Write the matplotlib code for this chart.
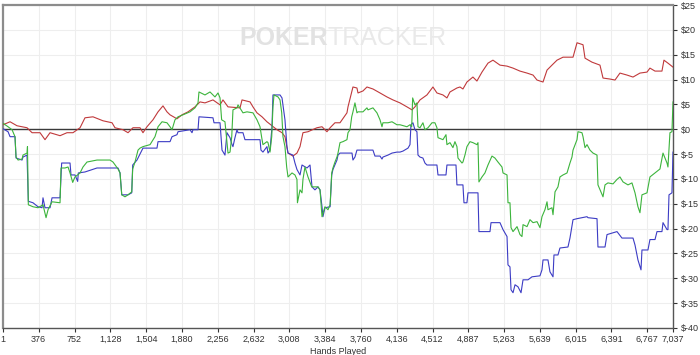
import matplotlib
matplotlib.use("Agg")
import matplotlib.pyplot as plt

# ---------------- data ----------------
red_hands = [1, 75, 148, 253, 306, 390, 442, 495, 600, 673, 736, 810, 862, 946, 1051, 1146, 1177, 1261, 1314,
             1366, 1440, 1471, 1513, 1576, 1629, 1681, 1723, 1755, 1828, 1881, 1944, 2017, 2070, 2122, 2206,
             2280, 2311, 2364, 2490, 2511, 2595, 2626, 2668, 2721, 2773, 2826, 2878, 2931, 2962, 2994, 3046,
             3088, 3120, 3151, 3204, 3298, 3351, 3403, 3436, 3487, 3540, 3613, 3624, 3676, 3718, 3729, 3781,
             3823, 3886, 3960, 4033, 4096, 4170, 4243, 4296, 4327, 4380, 4453, 4516, 4558, 4621, 4663, 4695,
             4768, 4800, 4831, 4873, 4936, 4978, 5031, 5094, 5146, 5220, 5294, 5357, 5430, 5504, 5567, 5609,
             5672, 5714, 5766, 5819, 5882, 5987, 6029, 6092, 6113, 6186, 6270, 6302, 6375, 6428, 6480, 6554,
             6617, 6690, 6764, 6795, 6848, 6921, 6942, 6984, 7037]
red_vals = [0.9, 1.5, 0.7, 0.3, -0.7, -0.7, -2.1, -0.7, -1.3, -0.7, -0.7, 0.3, 2.3, 2.5, 1.7, 1.3, 0.3, -0.1, -0.7,
            0.3, 0.3, -0.7, 0.5, 1.9, 3.5, 4.7, 3.5, 2.9, 2.1, 2.9, 3.5, 4.5, 5.5, 5.3, 5.9,
            4.9, 5.9, 4.5, 4.3, 5.9, 5.5, 4.5, 3.3, 2.5, 1.5, 0.7, -0.1, -0.7, -1.5, -4.8, -5.4,
            -4.8, -3.5, -0.7, -0.5, 0.3, 0.5, -0.5, 0.3, 1.3, 1.3, 3.3, 4.5, 8.5, 8.3, 7.3, 7.7,
            8.5, 8.1, 7.3, 6.5, 5.9, 5.3, 4.5, 3.9, 4.5, 5.9, 6.9, 8.5, 7.3, 6.9, 6.3, 7.5,
            8.3, 8.5, 8.1, 9.5, 10.5, 9.7, 11.5, 13.3, 13.9, 12.9, 12.7, 12.3, 11.7, 11.3, 10.9, 9.9,
            9.5, 11.9, 12.9, 13.9, 14.5, 14.5, 17.4, 17.0, 14.3, 13.5, 12.9, 10.3, 10.1, 9.9, 11.3, 10.9,
            10.5, 11.3, 11.5, 12.3, 11.7, 11.7, 13.9, 13.3, 12.5]

green_hands = [1, 54, 96, 127, 138, 159, 201, 211, 253, 258, 267, 316, 369, 421, 453, 474, 516, 600, 610, 652,
               684, 705, 733, 757, 810, 841, 883, 988, 1125, 1156, 1209, 1230, 1248, 1282, 1314, 1353, 1363,
               1387, 1419, 1440, 1471, 1545, 1597, 1629, 1671, 1723, 1755, 1776, 1807, 1839, 1891, 1965, 2017,
               2049, 2059, 2122, 2175, 2227, 2259, 2280, 2297, 2332, 2364, 2385, 2403, 2416, 2458, 2469, 2521,
               2563, 2626, 2668, 2700, 2718, 2731, 2773, 2784, 2805, 2823, 2836, 2847, 2889, 2910, 2928, 2941,
               2962, 2980, 2994, 3036, 3067, 3088, 3093, 3109, 3120, 3141, 3151, 3172, 3204, 3243, 3277, 3309,
               3330, 3340, 3351, 3382, 3414, 3436, 3453, 3466, 3487, 3508, 3519, 3540, 3571, 3613, 3624, 3645,
               3663, 3676, 3697, 3718, 3729, 3781, 3823, 3834, 3886, 3928, 3960, 3981, 3991, 4044, 4086, 4138,
               4170, 4243, 4275, 4293, 4303, 4327, 4348, 4359, 4380, 4411, 4432, 4464, 4506, 4537, 4558, 4569,
               4621, 4653, 4663, 4695, 4726, 4747, 4768, 4779, 4821, 4831, 4852, 4873, 4905, 4936, 4978, 4989,
               4999, 5031, 5062, 5094, 5136, 5167, 5199, 5241, 5252, 5294, 5304, 5325, 5336, 5357, 5399, 5430,
               5451, 5462, 5504, 5535, 5567, 5609, 5640, 5661, 5692, 5714, 5724, 5766, 5777, 5798, 5829, 5850,
               5882, 5924, 5955, 5976, 5987, 6029, 6039, 6081, 6092, 6113, 6134, 6165, 6197, 6239, 6249, 6302,
               6323, 6354, 6407, 6449, 6480, 6512, 6564, 6606, 6638, 6669, 6690, 6711, 6764, 6795, 6848, 6900,
               6932, 6974, 6984, 7005, 7026, 7037]
green_vals = [1.2, 0.5, -0.1, -1.5, -5.6, -6.2, -6.0, -5.2, -4.8, -3.5, -15.2, -15.6, -15.8, -15.2, -17.8, -16.2, -14.6, -14.8, -7.8, -7.8,
              -7.6, -8.8, -10.7, -9.6, -8.8, -7.6, -6.6, -6.2, -6.2, -6.6, -8.0, -8.8, -13.2, -13.6, -13.2, -12.6, -8.0,
              -6.6, -4.2, -3.8, -3.5, -3.1, -1.5, 0.5, 1.5, 1.3, 0.5, -0.1, 1.9, 2.5, 2.9, 3.5, 4.3,
              5.3, 7.5, 6.9, 7.5, 6.5, 7.3, 6.3, 1.9, 1.5, -4.8, -4.6, -1.5, 3.9, 4.3, 4.9, 3.3,
              3.5, 3.3, 1.9, 0.5, -1.7, -3.1, -2.5, -2.7, -4.6, -1.5, 4.5, 6.9, 6.5, 5.9, 3.3, -1.5,
              -3.5, -7.6, -9.6, -8.8, -9.2, -10.1, -14.8, -13.2, -12.2, -12.8, -10.1, -7.6, -9.6, -11.6, -11.6, -11.6,
              -12.2, -14.8, -17.6, -15.6, -16.2, -15.2, -8.8, -7.8, -6.6, -5.6, -4.8, -2.7, -2.5, -2.1, -0.7, -0.1,
              2.5, 3.5, 5.3, 3.3, 3.5, 3.5, 4.3, 3.9, 4.3, 3.3, 1.9, 0.5, 1.3, 1.3, 1.5, 0.9,
              0.9, 0.5, 0.9, 0.5, 6.3, 4.9, 5.3, 0.5, 0.3, 1.3, -0.1, 0.3, 1.3, 1.3, 0.3, -1.7,
              -2.1, -1.1, -3.1, -2.7, -3.7, -2.5, -3.5, -5.8, -6.8, -6.6, -5.2, -3.5, -2.5, -2.7, -3.1, -2.7,
              -10.6, -9.6, -8.8, -7.2, -5.4, -5.8, -6.6, -7.6, -8.8, -9.2, -14.8, -14.8, -19.8, -20.6, -19.6, -21.2,
              -21.6, -19.2, -19.6, -18.2, -18.8, -18.6, -19.8, -17.6, -16.2, -14.6, -16.2, -15.8, -17.2, -12.6, -11.6, -9.6,
              -9.2, -8.8, -6.8, -5.6, -4.2, -2.1, -0.5, -0.7, -1.5, -3.7, -3.1, -4.2, -4.8, -5.2, -11.2, -13.6,
              -11.2, -10.8, -11.0, -10.1, -9.6, -10.6, -11.2, -10.8, -12.8, -15.6, -16.8, -13.2, -12.8, -9.6, -8.8, -8.0,
              -4.8, -6.8, -7.6, -0.7, -0.5, 5.5]

blue_hands = [1, 54, 75, 127, 138, 201, 211, 253, 267, 316, 369, 411, 421, 442, 495, 516, 600, 617, 705, 715,
              757, 785, 792, 862, 988, 1209, 1230, 1248, 1314, 1353, 1363, 1408, 1461, 1471, 1618, 1629, 1755,
              1776, 1828, 1839, 1965, 1986, 1996, 2049, 2059, 2206, 2217, 2280, 2301, 2332, 2353, 2385, 2406,
              2416, 2437, 2458, 2469, 2521, 2542, 2700, 2710, 2731, 2773, 2784, 2805, 2826, 2836, 2910, 2931,
              2962, 2983, 2994, 3046, 3067, 3088, 3120, 3141, 3193, 3225, 3246, 3277, 3309, 3330, 3351, 3361,
              3382, 3436, 3453, 3466, 3508, 3519, 3540, 3666, 3676, 3697, 3718, 3886, 3907, 3960, 3981, 3991,
              4044, 4086, 4138, 4170, 4201, 4254, 4275, 4285, 4306, 4327, 4348, 4359, 4380, 4411, 4432, 4453,
              4558, 4569, 4653, 4663, 4758, 4768, 4831, 4842, 4873, 4884, 4989, 4999, 5115, 5126, 5220, 5252,
              5294, 5304, 5325, 5336, 5357, 5378, 5409, 5441, 5462, 5514, 5556, 5640, 5661, 5672, 5724, 5745,
              5777, 5787, 5829, 5850, 5934, 5955, 5987, 6029, 6134, 6144, 6239, 6249, 6323, 6344, 6449, 6501,
              6617, 6638, 6669, 6701, 6711, 6774, 6795, 6848, 6869, 6921, 6932, 6974, 6984, 6995, 7026, 7037]
blue_vals = [0.1, -0.5, -1.5, -1.5, -5.8, -6.2, -5.6, -5.2, -14.5, -14.8, -15.6, -15.8, -13.8, -15.8, -15.8, -13.8, -13.8, -6.8, -6.8, -9.2,
             -9.2, -10.5, -8.8, -8.6, -7.8, -7.8, -8.8, -13.2, -13.2, -12.8, -7.2, -6.2, -4.2, -3.8, -3.8, -2.5, -2.5,
             -1.5, -1.1, -0.5, -0.1, -0.7, -0.1, -0.1, 2.5, 2.3, 1.3, 1.3, -4.2, -5.2, -0.7, -1.7, -3.1,
             -3.5, -1.7, -0.1, -0.7, -0.7, -2.1, -2.1, -4.2, -4.6, -3.5, -4.8, -4.2, 0.5, 6.9, 6.9, 6.3,
             1.9, -3.5, -4.8, -5.2, -6.8, -8.1, -9.2, -7.2, -7.8, -7.2, -11.6, -12.2, -11.6, -12.2, -15.6, -17.6,
             -15.8, -15.6, -9.2, -8.1, -6.2, -5.2, -4.8, -4.8, -6.2, -5.6, -4.2, -4.2, -5.4, -5.4, -6.0, -5.6,
             -5.2, -4.8, -4.6, -4.6, -4.4, -3.8, -3.1, 0.9, 1.3, -0.1, -0.5, -5.2, -5.6, -5.8, -6.8, -7.2,
             -7.2, -9.2, -9.2, -7.2, -7.2, -11.2, -11.2, -14.8, -14.8, -12.8, -12.8, -20.6, -20.6, -18.8, -18.8, -20.2,
             -21.6, -27.3, -27.7, -32.3, -32.9, -31.3, -31.7, -32.9, -30.3, -30.3, -29.7, -29.5, -28.3, -26.3, -26.3, -28.7,
             -29.7, -25.3, -25.3, -23.9, -23.7, -21.9, -18.2, -18.0, -17.6, -17.8, -18.0, -23.7, -23.7, -21.2, -20.6, -21.9,
             -21.9, -23.3, -26.3, -28.3, -24.3, -24.3, -22.2, -22.2, -20.6, -20.6, -18.8, -20.2, -20.2, -13.2, -12.8, -4.6]

x_ticks = [1, 376, 752, 1128, 1504, 1880, 2256, 2632, 3008, 3384, 3760, 4136, 4512, 4887,
           5263, 5639, 6015, 6391, 6767, 7037]
y_ticks = [25, 20, 15, 10, 5, 0, -5, -10, -15, -20, -25, -30, -35, -40]
x_label = "Hands Played"

# ---------------- figure ----------------
plt.rcParams['font.family'] = ['Liberation Sans', 'DejaVu Sans']
fig = plt.figure(figsize=(7.0, 3.55), dpi=100)
fig.patch.set_facecolor('white')
ax = fig.add_axes([3 / 700, 1 - 328 / 355, 670 / 700, 323 / 355])
ax.set_facecolor('white')

ax.set_xlim(1, 7037)
ax.set_ylim(-40, 25)

ax.set_xticks(x_ticks)
ax.set_xticklabels([f"{t:,}" for t in x_ticks])
ax.set_yticks(y_ticks)
ax.set_yticklabels([f"${t}" for t in y_ticks])
ax.yaxis.tick_right()
ax.tick_params(axis='both', labelsize=6.5, colors='#333333', length=3, width=0.8, pad=2)
ax.tick_params(axis='y', pad=3)

ax.grid(True, color='#eeeeee', linewidth=0.8)
ax.set_axisbelow(True)

for side in ('top', 'left'):
    ax.spines[side].set_color('#8c8c8c')
    ax.spines[side].set_linewidth(1.6)
for side in ('bottom', 'right'):
    ax.spines[side].set_color('#555555')
    ax.spines[side].set_linewidth(1.0)

# watermark
ax.text(0.353, 0.898, "POKER", transform=ax.transAxes, fontsize=18, fontweight='bold',
        color='#e2e2e2', ha='left', va='center', zorder=1)
ax.text(0.485, 0.898, "TRACKER", transform=ax.transAxes, fontsize=18,
        color='#e9e9e9', ha='left', va='center', zorder=1)

ax.axhline(0, color='#3a3a3a', linewidth=1.0, zorder=2)

ax.plot(red_hands, red_vals, color='#c0393b', linewidth=0.8, zorder=3)
ax.plot(blue_hands, blue_vals, color='#3c3cc4', linewidth=0.8, zorder=3)
ax.plot(green_hands, green_vals, color='#3cb43c', linewidth=0.8, zorder=4)

ax.set_xlabel(x_label, fontsize=6.5, color='#333333', labelpad=2)

fig.savefig("out.png", dpi=100, facecolor='white')
